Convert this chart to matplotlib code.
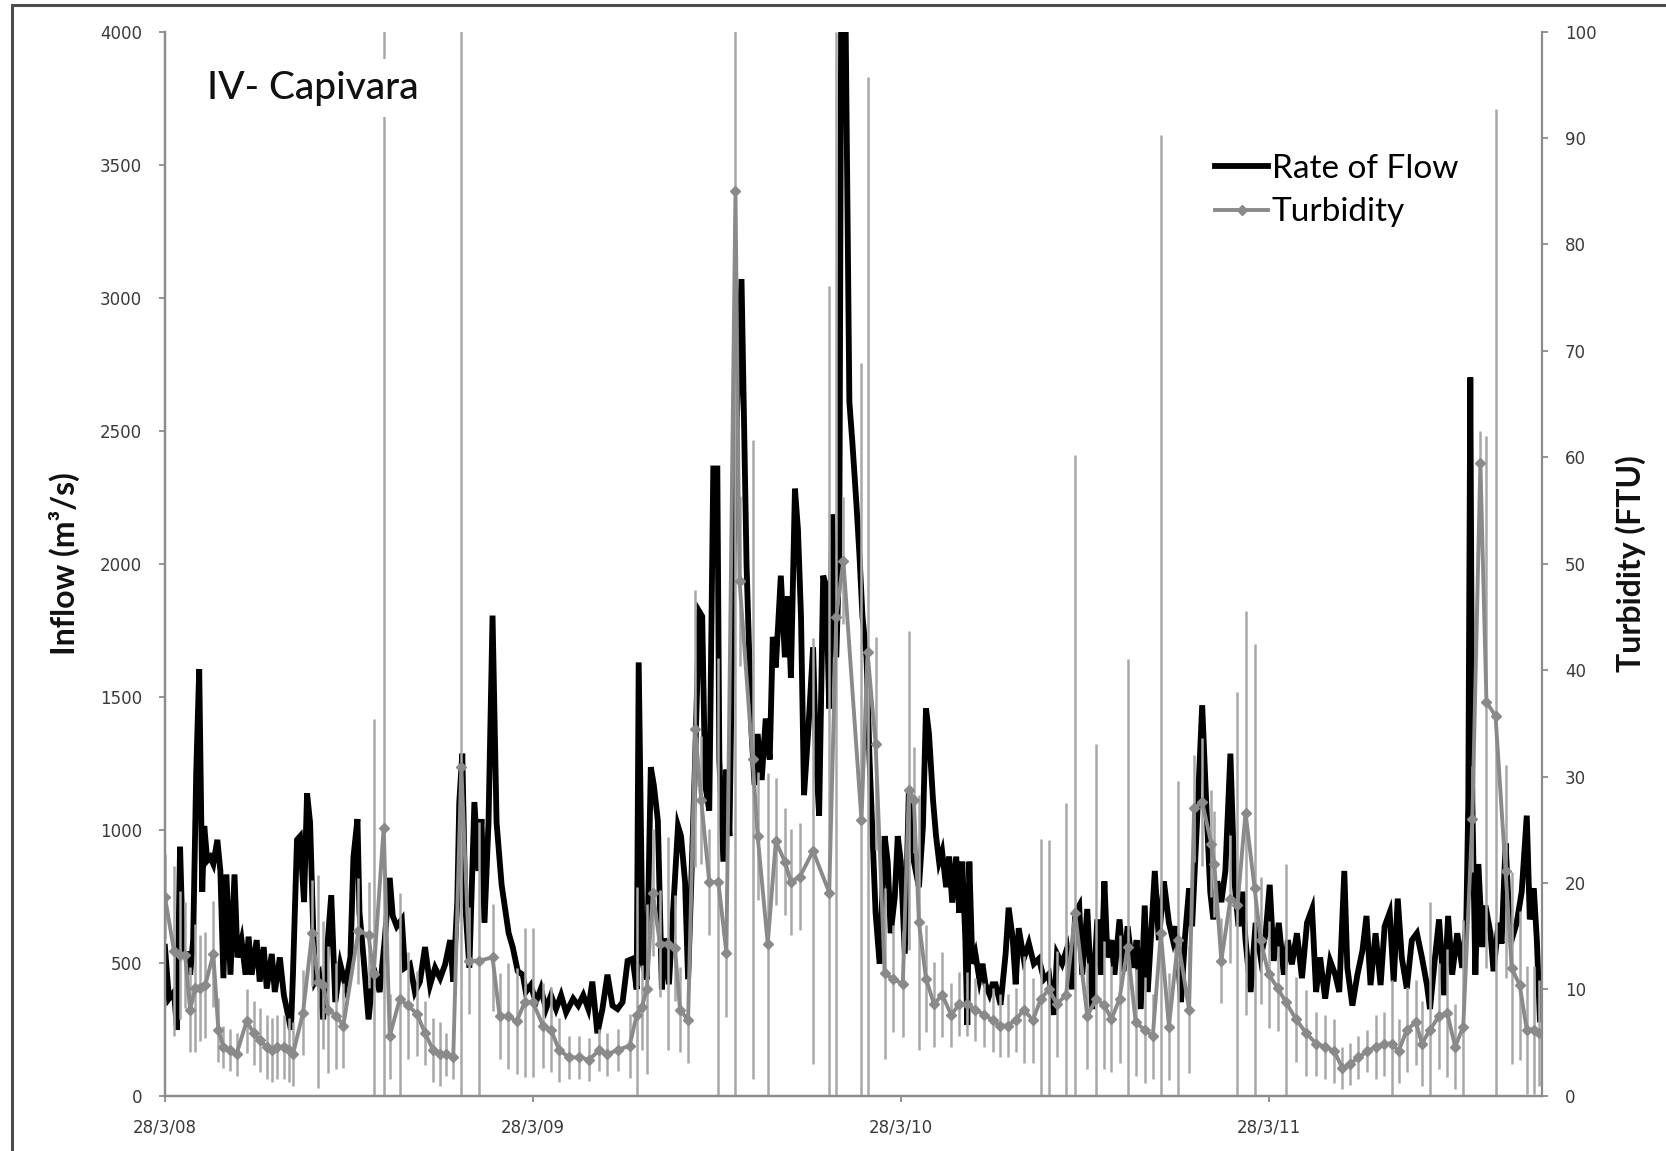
import numpy as np
import matplotlib
matplotlib.use("Agg")
import matplotlib.pyplot as plt
from matplotlib.patches import Rectangle

# --- Series (days counted from 28/3/2008) ---
start = np.datetime64("2008-03-28")

flow_day = [
    0, 4, 9, 12, 15, 18, 22, 25, 28, 31,
    34, 37, 39, 42, 45, 48, 52, 55, 58, 61,
    65, 69, 72, 76, 80, 83, 86, 91, 94, 98,
    101, 106, 109, 114, 118, 123, 125, 127, 131, 134,
    138, 141, 144, 147, 149, 153, 157, 160, 165, 169,
    174, 179, 184, 187, 191, 193, 197, 202, 207, 213,
    218, 223, 226, 230, 235, 238, 243, 248, 253, 258,
    263, 268, 273, 278, 283, 286, 290, 292, 295, 298,
    302, 307, 311, 314, 317, 321, 325, 329, 334, 337,
    341, 345, 350, 355, 358, 363, 368, 373, 378, 383,
    388, 393, 398, 405, 410, 415, 420, 424, 429, 434,
    439, 444, 449, 454, 459,
    464, 468, 470, 474, 478, 482, 485, 489, 493, 496,
    500, 504, 509, 512, 516, 519, 522, 526, 530, 533,
    536, 540, 544, 548, 550, 554, 557, 560, 564, 567,
    572, 577, 582, 585, 588, 592, 596, 600, 603, 606,
    611, 615, 618, 621, 625, 628, 631, 634, 638, 643,
    646, 649, 653, 656, 659, 662, 666, 669, 671, 675,
    679, 682, 686, 689, 692, 696, 699, 702, 705, 709,
    714, 717, 720, 724, 727, 730, 734, 738, 743, 748,
    752, 755, 758, 762, 765, 768, 771, 775, 778, 781,
    785, 788, 791, 794, 796, 798, 801, 804, 808, 811,
    814, 818, 821, 824, 829, 834, 837, 841, 844, 847,
    852, 857, 862, 867, 872, 877, 882, 885, 890, 895,
    900, 903,
    907, 910, 915, 920, 925, 929, 932, 935, 939, 942,
    947, 951, 955, 960, 964, 968, 972, 975, 982, 986,
    991, 996, 1000, 1003, 1008, 1012, 1016, 1019, 1024, 1029,
    1033, 1037, 1040, 1044, 1048, 1052, 1057, 1061, 1065, 1069,
    1072, 1077, 1082, 1087, 1092, 1096, 1100, 1105, 1110, 1114,
    1118, 1123, 1128, 1133, 1138, 1142, 1146, 1151, 1156, 1161,
    1165, 1170, 1173, 1178, 1183, 1188, 1192, 1196, 1201, 1206,
    1210, 1215, 1219, 1223, 1227, 1232, 1237, 1242, 1247, 1252,
    1255, 1260, 1264, 1269, 1273, 1277, 1282, 1287, 1291, 1293,
    1295, 1297, 1300, 1303, 1307, 1310, 1315, 1318, 1323, 1326,
    1330, 1333, 1336, 1341, 1346, 1351, 1354, 1358, 1361, 1364,
]
flow_m3s = [
    560, 365, 390, 248, 936, 533, 533, 455, 585, 1208,
    1604, 767, 1014, 884, 897, 871, 962, 845, 442, 832,
    455, 832, 520, 585, 455, 598, 455, 585, 429, 559,
    403, 533, 390, 520, 378, 287, 248, 455, 962, 975,
    728, 1137, 1027, 637, 429, 455, 287, 507, 754, 352,
    494, 416, 520, 897, 1040, 689, 520, 287, 481, 390,
    585, 819, 676, 637, 663, 481, 494, 390, 429, 559,
    416, 481, 442, 494, 585, 429, 728, 1104, 1286, 715,
    481, 1104, 845, 1040, 650, 1027, 1805, 1027, 793, 715,
    611, 559, 468, 455, 390, 416, 352, 403, 326, 378,
    326, 378, 313, 365, 339, 378, 326, 429, 235, 326,
    455, 339, 326, 352, 507,
    515, 400, 1629, 496, 438, 1235, 1168, 1034, 400, 592,
    419, 688, 1014, 976, 803, 438, 784, 1264, 1821, 1802,
    1168, 1072, 2358, 2358, 1264, 880, 1226, 976, 1994, 2500,
    3070, 1994, 1360, 1168, 1360, 1187, 1418, 1264, 1725, 1610,
    1955, 1648, 1878, 1571, 2282, 2128, 1802, 1130, 1360, 1686,
    1264, 1053, 1955, 1917, 1456, 2186, 1648, 2032, 4250, 4150,
    2608, 2454, 2224, 2032, 1802, 1648, 1264, 976, 688, 496,
    976, 880, 611, 746, 976, 880, 534, 1149, 880, 784,
    1014, 1456, 1360, 1110, 976, 880, 918, 784, 899, 726,
    899, 688, 880, 592, 266, 880, 496, 534, 438, 496,
    419, 381, 419, 419, 342, 534, 707, 592, 419, 630,
    515, 573, 496, 515, 438, 458, 304, 534, 496, 554,
    400, 688,
    715, 455, 702, 326, 663, 455, 806, 520, 585, 455,
    663, 468, 637, 481, 585, 326, 715, 390, 845, 585,
    806, 650, 585, 637, 352, 598, 780, 637, 1040, 1468,
    1104, 767, 663, 806, 728, 845, 1286, 806, 637, 767,
    585, 390, 650, 520, 611, 793, 507, 650, 455, 585,
    494, 611, 442, 650, 702, 390, 520, 365, 507, 455,
    390, 845, 481, 339, 455, 546, 676, 416, 611, 416,
    637, 689, 429, 741, 520, 403, 585, 611, 520, 416,
    326, 520, 663, 378, 676, 455, 611, 481, 650, 1100,
    2700, 1104, 455, 871, 559, 715, 611, 468, 650, 572,
    949, 715, 585, 650, 767, 1053, 663, 780, 585, 287,
]

turb_day = [
    0, 9, 15, 20, 25, 30, 35, 40, 48, 53,
    58, 65, 71, 81, 88, 94, 101, 106, 111, 118,
    123, 127, 137, 146, 152, 157, 162, 170, 177, 192,
    202, 207, 217, 223, 233, 241, 250, 258, 266, 273,
    279, 286, 294, 302, 312, 325, 332, 340, 349, 357,
    365, 375, 383, 391, 401, 411, 421, 431, 439, 449,
    461, 468, 473, 478, 484, 491, 499, 506, 511, 519,
    526, 532, 540, 549, 557, 566, 570, 583, 588, 598,
    606, 615, 621, 630, 643, 659, 666, 673, 691, 697,
    705, 714, 722, 732, 738, 743, 748, 755, 763, 771,
    780, 788, 796, 804, 813, 821, 828, 836, 844, 852,
    861, 869, 877, 885, 894, 903,
    915, 924, 932, 939, 947, 955, 963, 972, 980, 988,
    996, 1005, 1016, 1021, 1029, 1038, 1041, 1048, 1057, 1064,
    1072, 1081, 1087, 1095, 1104, 1112, 1122, 1132, 1142, 1151,
    1160, 1168, 1176, 1184, 1193, 1201, 1209, 1217, 1224, 1232,
    1241, 1247, 1255, 1264, 1272, 1280, 1288, 1297, 1305, 1311,
    1320, 1330, 1336, 1344, 1351, 1358, 1363,
]
turb_ftu = [
    18.7, 13.6, 13.2, 13.2, 8.1, 10.1, 10.1, 10.4, 13.3, 6.2,
    4.6, 4.3, 3.9, 7.0, 5.9, 5.2, 4.6, 4.3, 4.6, 4.6,
    4.3, 3.9, 7.8, 15.3, 10.7, 10.4, 8.1, 7.5, 6.6, 15.5,
    15.1, 11.4, 25.2, 5.6, 9.1, 8.5, 7.7, 5.9, 4.3, 3.9,
    3.9, 3.6, 30.9, 12.7, 12.7, 13.0, 7.5, 7.5, 7.0, 8.8,
    8.8, 6.6, 6.2, 4.3, 3.6, 3.6, 3.4, 4.3, 3.9, 4.3,
    4.7, 7.6, 8.3, 10.0, 19.1, 14.3, 14.3, 13.9, 8.1, 7.1,
    34.5, 27.8, 20.1, 20.1, 13.4, 85.0, 48.4, 31.6, 24.4, 14.3,
    23.9, 22.0, 20.1, 20.6, 23.0, 19.1, 45.0, 50.3, 25.9, 41.7,
    33.1, 11.5, 11.0, 10.5, 28.7, 27.8, 16.3, 11.0, 8.6, 9.5,
    7.6, 8.6, 8.6, 8.1, 7.6, 7.1, 6.6, 6.6, 7.1, 8.1,
    7.1, 9.1, 10.0, 8.6, 9.5, 17.2,
    7.5, 9.1, 8.5, 7.2, 9.1, 14.0, 6.9, 6.2, 5.6, 15.3,
    6.5, 14.6, 8.1, 27.0, 27.6, 23.7, 21.8, 12.7, 18.5, 17.9,
    26.6, 19.5, 14.6, 11.4, 10.1, 8.8, 7.2, 5.9, 4.9, 4.6,
    4.2, 2.6, 3.0, 3.6, 4.2, 4.6, 4.9, 4.9, 4.2, 6.2,
    6.9, 4.9, 6.2, 7.5, 7.8, 4.6, 6.5, 26.0, 59.5, 37.0,
    35.7, 21.1, 12.0, 10.4, 6.2, 6.2, 5.9,
]
turb_err = [
    4, 8, 6, 5, 4, 6, 5, 5, 5, 3,
    2, 2, 2, 3, 3, 3, 3, 3, 3, 3,
    3, 3, 4, 5, 10, 6, 6, 5, 4, 5,
    5, 24, 80, 4, 10, 5, 4, 3, 3, 3,
    2, 2, 75, 5, 13, 5, 4, 5, 5, 7,
    7, 4, 4, 3, 2, 2, 2, 2, 2, 2,
    3, 12, 4, 8, 6, 5, 10, 5, 4, 4,
    13, 6, 5, 21, 6, 88, 8, 30, 6, 16,
    6, 5, 5, 5, 20, 57, 55, 6, 43, 54,
    10, 8, 5, 5, 15, 5, 12, 5, 4, 4,
    3, 3, 3, 3, 3, 3, 3, 3, 3, 5,
    4, 15, 14, 5, 18, 43,
    5, 24, 6, 5, 6, 27, 5, 5, 4, 75,
    5, 15, 6, 5, 6, 5, 5, 4, 6, 20,
    19, 23, 6, 5, 4, 13, 4, 4, 3, 3,
    3, 2, 2, 2, 2, 3, 3, 6, 3, 4,
    4, 4, 12, 5, 6, 4, 10, 5, 3, 25,
    57, 10, 9, 7, 6, 6, 5,
]

year_ticks = ["2008-03-28", "2009-03-28", "2010-03-28", "2011-03-28"]
year_labels = ["28/3/08", "28/3/09", "28/3/10", "28/3/11"]
last_day = 1366

flow_dates = start + np.array(flow_day)
turb_dates = start + np.array(turb_day)

plt.rcParams["font.family"] = ["DejaVu Sans"]
axis_grey = "#8c8c8c"
label_grey = "#3a3a3a"

fig = plt.figure(figsize=(16.66, 11.51), dpi=100)
ax = fig.add_axes([0.099, 0.048, 0.8265, 0.9245])
ax2 = ax.twinx()

# --- Rate of flow (left axis) ---
flow_line, = ax.plot(flow_dates, flow_m3s, color="black", lw=4.2,
                     solid_joinstyle="miter", label="Rate of Flow")
ax.set_ylim(0, 4000)
ax.set_yticks(np.arange(0, 4001, 500))
ax.set_xlim(start, start + np.timedelta64(last_day, "D"))

# --- Turbidity with error bars (right axis) ---
ax2.errorbar(turb_dates, turb_ftu, yerr=turb_err, fmt="none",
             ecolor="#a8a8a8", elinewidth=1.8, capsize=0, zorder=2)
turb_line, = ax2.plot(turb_dates, turb_ftu, color="#8a8a8a", lw=2.8,
                      marker="D", markersize=5, markerfacecolor="#8a8a8a",
                      markeredgecolor="#8a8a8a", label="Turbidity", zorder=3)
ax2.set_ylim(0, 100)
ax2.set_yticks(np.arange(0, 101, 10))

ax.set_xticks([np.datetime64(d) for d in year_ticks])
ax.set_xticklabels(year_labels)

for a in (ax, ax2):
    a.spines["top"].set_visible(False)
    for side in ("left", "right", "bottom"):
        a.spines[side].set_color(axis_grey)
        a.spines[side].set_linewidth(1.6)
    a.tick_params(colors=axis_grey, labelcolor=label_grey, length=4.5,
                  width=1.3, labelsize=12, pad=12)
ax.spines["right"].set_visible(False)

ax.set_ylabel("Inflow (m³/s)", fontsize=23, fontweight="bold",
              family="Lato", color="#111111")
ax.yaxis.set_label_coords(-0.062, 0.5)
ax2.set_ylabel("Turbidity (FTU)", fontsize=23, fontweight="bold",
               family="Lato", color="#111111")
ax2.yaxis.set_label_coords(1.053, 0.5)

ax2.text(0.0305, 0.947, "IV- Capivara", transform=ax2.transAxes,
         fontsize=28, family="Lato", fontweight="medium", color="#111111",
         ha="left", va="center", zorder=10,
         bbox=dict(facecolor="white", edgecolor="none", pad=8))

ax2.legend(handles=[flow_line, turb_line], loc="upper left",
           bbox_to_anchor=(0.7625, 0.885), frameon=False,
           prop={"family": "Lato", "size": 24}, handlelength=1.6,
           handletextpad=0.1, labelspacing=0.4, borderpad=0,
           borderaxespad=0)

# frame around the whole figure
fig.patches.append(Rectangle((0.0072, -0.05), 1.1, 1.0457,
                             transform=fig.transFigure, fill=False,
                             edgecolor="#4d4d4d", linewidth=2.2))

fig.savefig("out.png", dpi=100)
